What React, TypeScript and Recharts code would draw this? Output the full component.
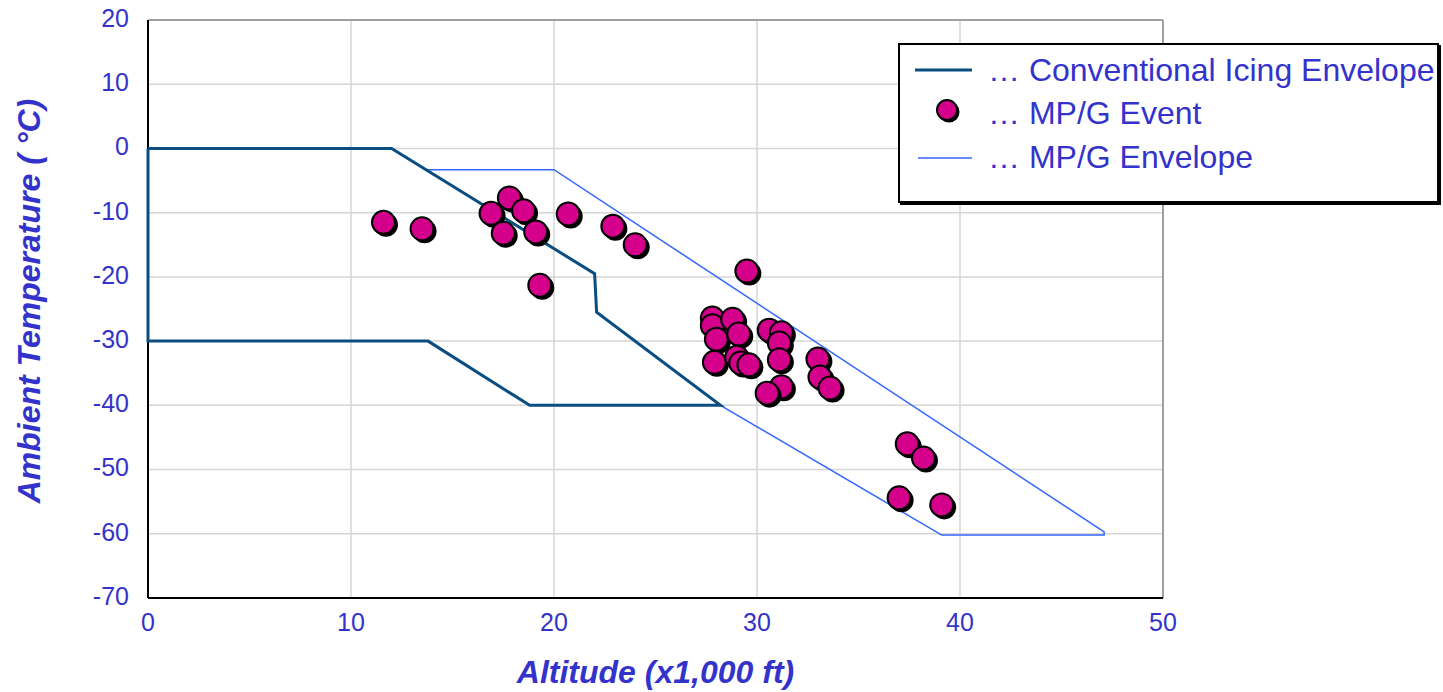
import { CartesianGrid, Legend, ReferenceLine, Scatter, ScatterChart, XAxis, YAxis } from "recharts";

// Axis ticks
const altitudeTicks = [0, 10, 20, 30, 40, 50];
const temperatureTicks = [20, 10, 0, -10, -20, -30, -40, -50, -60, -70];

// Conventional icing envelope (closed outline)
const convAltitude = [0, 12, 22, 22.1, 28.2, 18.8, 13.8, 0, 0];
const convTemperature = [0, 0, -19.5, -25.5, -40, -40, -30, -30, 0];

// MP/G envelope
const mpgAltitude = [13.8, 20, 47.1, 47.1, 39.1, 28.2];
const mpgTemperature = [-3.3, -3.3, -59.7, -60.2, -60.2, -40];

// MP/G events
const eventAltitude = [
  11.6, 13.5, 17.8, 16.9, 18.5, 17.5, 19.1, 20.7, 22.9, 24.0, 19.3,
  29.5, 27.8, 27.8, 28.0, 28.8, 29.1, 27.9, 29.0, 29.2, 29.6,
  30.6, 31.2, 31.1, 31.1, 31.2, 30.5, 33.0, 33.1, 33.6,
  37.4, 38.2, 37.0, 39.1,
];
const eventTemperature = [
  -11.5, -12.5, -7.7, -10.1, -9.7, -13.2, -13.0, -10.2, -12.1, -15.0, -21.3,
  -19.1, -26.4, -27.6, -29.7, -26.6, -28.9, -33.3, -32.5, -33.4, -33.7,
  -28.3, -28.7, -30.3, -32.9, -37.1, -38.1, -32.8, -35.6, -37.3,
  -46.0, -48.2, -54.4, -55.5,
];

const toPoints = (xs: number[], ys: number[]) => xs.map((x, i) => ({ x, y: ys[i] }));

const convData = toPoints(convAltitude, convTemperature);
const mpgData = toPoints(mpgAltitude, mpgTemperature);
const eventData = toPoints(eventAltitude, eventTemperature);

const FONT = '"Liberation Sans", Arial, Helvetica, sans-serif';
const TEXT = "#3333CC";
const CONV = "#0A4D80";
const MPG = "#3366FF";
const DOT = "#D4008C";

const EventDot = (props: any) => {
  const { cx, cy } = props;
  if (cx == null || cy == null) return <g />;
  return (
    <g>
      <circle cx={cx + 2.5} cy={cy + 2.5} r={12} fill="#000" />
      <circle cx={cx} cy={cy} r={11.5} fill={DOT} stroke="#000" strokeWidth={2} />
    </g>
  );
};

const NoDot = () => <g />;

const XTitle = (props: any) => {
  const vb = props.viewBox;
  return (
    <text
      x={vb.x + vb.width / 2}
      y={vb.y + 85}
      textAnchor="middle"
      fill={TEXT}
      fontFamily={FONT}
      fontSize={32}
      fontWeight="bold"
      fontStyle="italic"
    >
      Altitude (x1,000 ft)
    </text>
  );
};

const YTitle = (props: any) => {
  const vb = props.viewBox;
  const cx = vb.x + 29;
  const cy = vb.y + vb.height / 2 - 8;
  return (
    <text
      x={cx}
      y={cy}
      transform={`rotate(-90, ${cx}, ${cy})`}
      textAnchor="middle"
      dominantBaseline="central"
      fill={TEXT}
      fontFamily={FONT}
      fontSize={32}
      fontWeight="bold"
      fontStyle="italic"
    >
      Ambient Temperature ( °C)
    </text>
  );
};

const legendRows = [
  { label: "… Conventional Icing Envelope", kind: "conv" },
  { label: "… MP/G Event", kind: "dot" },
  { label: "… MP/G Envelope", kind: "mpg" },
];

const renderLegend = () => (
  <div
    style={{
      position: "relative",
      width: 537,
      height: 156,
      border: "2px solid #000",
      boxShadow: "2px 2px 0 #000",
      background: "#fff",
      fontFamily: FONT,
      fontSize: 32,
      color: TEXT,
    }}
  >
    {legendRows.map((row, i) => (
      <div
        key={row.label}
        style={{
          position: "absolute",
          left: 0,
          top: 5 + i * 43.5,
          height: 40,
          width: "100%",
          display: "flex",
          alignItems: "center",
        }}
      >
        <svg width={88} height={40} style={{ flex: "none" }}>
          {row.kind === "conv" && <line x1={15} x2={72} y1={20} y2={20} stroke={CONV} strokeWidth={3} />}
          {row.kind === "mpg" && <line x1={18} x2={72} y1={21} y2={21} stroke={MPG} strokeWidth={1.5} />}
          {row.kind === "dot" && (
            <g>
              <circle cx={49} cy={18} r={10.5} fill="#000" />
              <circle cx={47} cy={16} r={10} fill={DOT} stroke="#000" strokeWidth={2} />
            </g>
          )}
        </svg>
        <span style={{ whiteSpace: "nowrap" }}>{row.label}</span>
      </div>
    ))}
  </div>
);

export default function App() {
  return (
    <div style={{ position: "absolute", left: 0, top: 0, width: 1443, height: 692, background: "#fff" }}>
      <ScatterChart width={1443} height={692} margin={{ top: 20, right: 280, bottom: 0, left: 0 }}>
        <CartesianGrid stroke="#d6d6d6" strokeWidth={1.5} />
        <XAxis
          type="number"
          dataKey="x"
          domain={[0, 50]}
          ticks={altitudeTicks}
          interval={0}
          height={94}
          tickLine={false}
          tickSize={0}
          tickMargin={15}
          axisLine={{ stroke: "#000", strokeWidth: 2 }}
          tick={{ fill: TEXT, fontSize: 25, fontFamily: FONT }}
          label={XTitle}
        />
        <YAxis
          type="number"
          dataKey="y"
          domain={[-70, 20]}
          ticks={temperatureTicks}
          interval={0}
          width={148}
          tickLine={false}
          tickSize={0}
          tickMargin={19}
          axisLine={{ stroke: "#000", strokeWidth: 2 }}
          tick={{ fill: TEXT, fontSize: 25, fontFamily: FONT, dy: -2 }}
          label={YTitle}
        />
        <ReferenceLine y={20} stroke="#a0a0a0" strokeWidth={2} />
        <ReferenceLine x={50} stroke="#a0a0a0" strokeWidth={2} />
        <Scatter
          name="MP/G Envelope"
          data={mpgData}
          line={{ stroke: MPG, strokeWidth: 1.5 }}
          lineType="joint"
          shape={NoDot}
          isAnimationActive={false}
        />
        <Scatter
          name="Conventional Icing Envelope"
          data={convData}
          line={{ stroke: CONV, strokeWidth: 3 }}
          lineType="joint"
          shape={NoDot}
          isAnimationActive={false}
        />
        <Scatter name="MP/G Event" data={eventData} shape={EventDot} isAnimationActive={false} />
        <Legend
          layout="horizontal"
          verticalAlign="middle"
          align="center"
          content={renderLegend}
          wrapperStyle={{ left: 898, top: 43, width: 541, height: 160 }}
        />
      </ScatterChart>
    </div>
  );
}
